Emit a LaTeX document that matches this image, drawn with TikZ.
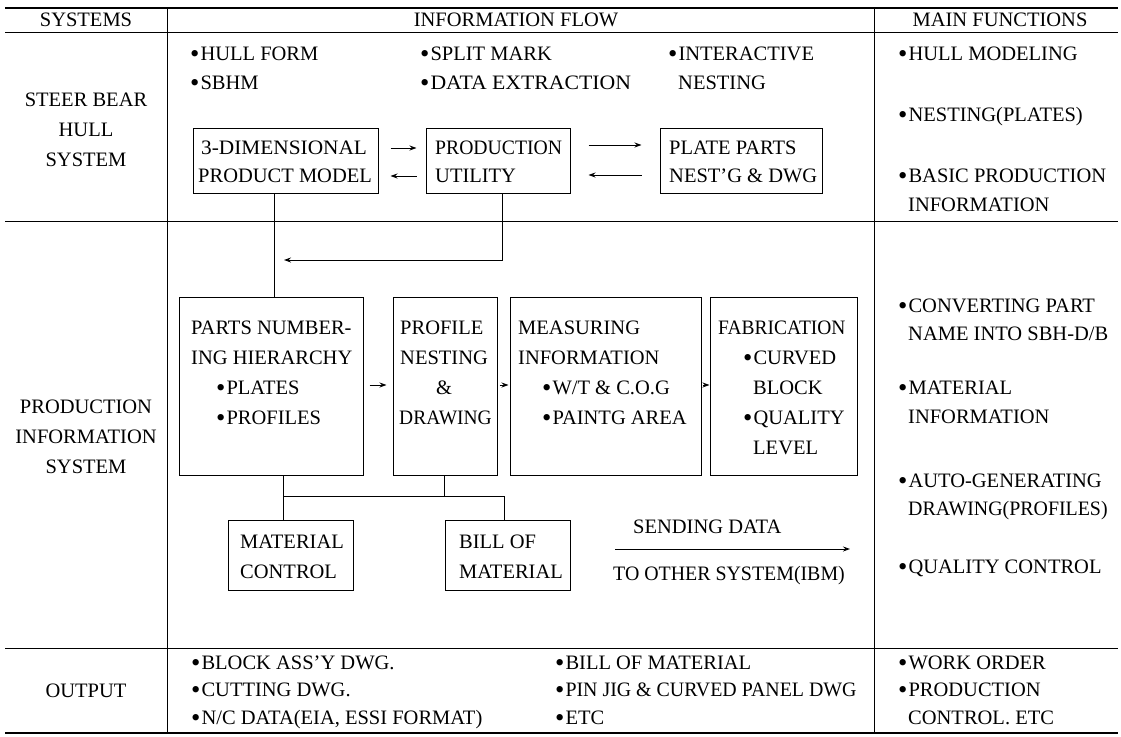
\documentclass[tikz,border=0pt]{standalone}
\usepackage{fontspec}
\setmainfont{Liberation Serif}
\usetikzlibrary{arrows.meta,calc}
\newcommand\bu{\raisebox{-1.3pt}{\scalebox{1.3}{•}}\kern1pt}
\newcommand\sq[2]{\scalebox{#1}[1]{#2}}
\begin{document}
\begin{tikzpicture}[x=1pt,y=-1pt,
  every node/.style={font=\fontsize{20.5}{24}\selectfont, inner sep=0pt},
  t/.style={anchor=west, text height=13.6pt, text depth=0pt},
  c/.style={anchor=center, text height=13.6pt, text depth=0pt},
  box/.style={draw, line width=1pt, anchor=center},
  ln/.style={line width=1pt},
  rule/.style={line width=1pt},
  arr/.style={line width=1pt, -{Stealth[length=7pt,width=5pt]}}]
\useasboundingbox (0,0) rectangle (1121,736);
% table rules
\draw[line width=1.6pt] (5,8) -- (1118,8);
\draw[rule] (5,32) -- (1118,32);
\draw[rule] (5,221) -- (1118,221);
\draw[rule] (5,648) -- (1118,648);
\draw[line width=1.3pt] (5,733) -- (1118,733);
\draw[line width=0.8pt] (167,8) -- (167,733);
\draw[line width=0.8pt] (874,8) -- (874,733);
% headers
\node[c] (hsys) at (86,20) {SYSTEMS};
\node[c] (hflow) at (516,20) {INFORMATION FLOW};
\node[c] (hmain) at (1000,20) {MAIN FUNCTIONS};
% left column
\node[c] (s1a) at (86,100) {STEER BEAR};
\node[c] (s1b) at (86,130) {HULL};
\node[c] (s1c) at (86,160) {SYSTEM};
\node[c] (s2a) at (86,407) {PRODUCTION};
\node[c] (s2b) at (86,437) {INFORMATION};
\node[c] (s2c) at (86,467) {SYSTEM};
\node[c] (s3) at (86,691) {OUTPUT};
% top flow bullets
\node[t] (f1a) at (190,54) {\bu HULL FORM};
\node[t] (f1b) at (190,83) {\bu SBHM};
\node[t] (f2a) at (420,54) {\bu SPLIT MARK};
\node[t] (f2b) at (420,83) {\bu \sq{1.06}{DATA EXTRACTION}};
\node[t] (f3a) at (668,54) {\bu INTERACTIVE};
\node[t] (f3b) at (678,83) {NESTING};
% top boxes
\node[box, minimum width=185pt, minimum height=65pt] (b1) at (285.5,160.5) {};
\node[t] (b1a) at (201,148) {\sq{1.04}{3-DIMENSIONAL}};
\node[t] (b1b) at (198,176) {PRODUCT MODEL};
\node[box, minimum width=144pt, minimum height=65pt] (b2) at (498,160.5) {};
\node[t] (b2a) at (435,148) {\sq{0.96}{PRODUCTION}};
\node[t] (b2b) at (435,176) {UTILITY};
\node[box, minimum width=162pt, minimum height=65pt] (b3) at (741,160.5) {};
\node[t] (b3a) at (669,148) {PLATE PARTS};
\node[t] (b3b) at (669,176) {NEST'G \& DWG};
\draw[arr] ($(b1.east)+(12,-12.5)$) -- ($(b2.west)+(-9,-12.5)$);
\draw[arr] ($(b2.west)+(-9,15.5)$) -- ($(b1.east)+(12,15.5)$);
\draw[arr] ($(b2.east)+(18,-15.5)$) -- ($(b3.west)+(-18,-15.5)$);
\draw[arr] ($(b3.west)+(-18,14.5)$) -- ($(b2.east)+(18,14.5)$);
% main functions top
\node[t] (m1) at (898,54) {\bu HULL MODELING};
\node[t] (m2) at (898,115) {\bu NESTING(PLATES)};
\node[t] (m3) at (898,176) {\bu BASIC PRODUCTION};
\node[t] (m3b) at (908,205) {INFORMATION};
% production row boxes
\node[box, minimum width=184pt, minimum height=178pt] (parts) at (271,386) {};
\node[t] (pa1) at (191,328) {PARTS NUMBER-};
\node[t] (pa2) at (191,358) {ING HIERARCHY};
\node[t] (pa3) at (216,388) {\bu PLATES};
\node[t] (pa4) at (216,418) {\bu PROFILES};
\node[box, minimum width=104pt, minimum height=178pt] (prof) at (445,386) {};
\node[t] (pr1) at (400,328) {PROFILE};
\node[t] (pr2) at (400,358) {NESTING};
\node[c] (pr3) at (444,388) {\&};
\node[t] (pr4) at (399,418) {\sq{0.95}{DRAWING}};
\node[box, minimum width=191pt, minimum height=178pt] (meas) at (605.5,386) {};
\node[t] (me1) at (518,328) {MEASURING};
\node[t] (me2) at (518,358) {INFORMATION};
\node[t] (me3) at (542,388) {\bu W/T \& C.O.G};
\node[t] (me4) at (542,418) {\bu PAINTG AREA};
\node[box, minimum width=147pt, minimum height=178pt] (fab) at (783.5,386) {};
\node[t] (fa1) at (718,328) {\sq{0.95}{FABRICATION}};
\node[t] (fa2) at (743,358) {\bu CURVED};
\node[t] (fa3) at (753,388) {BLOCK};
\node[t] (fa4) at (743,418) {\bu QUALITY};
\node[t] (fa5) at (753,448) {LEVEL};
\draw[arr] ($(parts.east)+(6,-1)$) -- ($(prof.west)+(-6,-1)$);
\draw[arr] ($(prof.east)+(2,-1)$) -- ($(meas.west)+(-1,-1)$);
\draw[arr] ($(meas.east)+(1,-1)$) -- ($(fab.west)+(0,-1)$);
% connectors from top boxes
\coordinate (jn) at (284,260);
\draw[ln] ([xshift=-11.5pt]b1.south) -- ([xshift=-11.5pt]b1.south |- parts.north);
\draw[arr] ([xshift=4pt]b2.south) |- (jn);
% lower boxes
\node[box, minimum width=125pt, minimum height=70pt] (mc) at (290.5,555) {};
\node[t] (mc1) at (240,542) {MATERIAL};
\node[t] (mc2) at (240,572) {CONTROL};
\node[box, minimum width=125pt, minimum height=70pt] (bom) at (507.5,555) {};
\node[t] (bo1) at (459,542) {BILL OF};
\node[t] (bo2) at (459,572) {MATERIAL};
\coordinate (jl) at (283,496);
\coordinate (jr) at (504,496);
\draw[ln] ([xshift=12pt]parts.south) -- ([xshift=12pt]parts.south |- mc.north);
\draw[ln] ([xshift=-1pt]prof.south) -- ([xshift=-1pt]prof.south |- jl);
\draw[ln] (jl) -- (jr) -- (jr |- bom.north);
% sending data
\node[t] (sd1) at (633,527) {SENDING DATA};
\node[t] (sd2) at (613,574) {\sq{0.97}{TO OTHER SYSTEM(IBM)}};
\coordinate (sa) at (615,549);
\coordinate (sb) at (850,549);
\draw[arr] (sa) -- (sb);
% main functions middle
\node[t] (m4) at (898,306) {\bu CONVERTING PART};
\node[t] (m4b) at (908,334) {NAME INTO SBH-D/B};
\node[t] (m5) at (898,388) {\bu MATERIAL};
\node[t] (m5b) at (908,417) {INFORMATION};
\node[t] (m6) at (898,481) {\bu AUTO-GENERATING};
\node[t] (m6b) at (908,509) {\sq{0.97}{DRAWING(PROFILES)}};
\node[t] (m7) at (898,567) {\bu QUALITY CONTROL};
% output
\node[t] (o1) at (191,663) {\bu BLOCK ASS'Y DWG.};
\node[t] (o2) at (191,690) {\bu CUTTING DWG.};
\node[t] (o3) at (191,718) {\bu N/C DATA(EIA, ESSI FORMAT)};
\node[t] (o4) at (555,663) {\bu BILL OF MATERIAL};
\node[t] (o5) at (555,690) {\bu \sq{0.97}{PIN JIG \& CURVED PANEL DWG}};
\node[t] (o6) at (555,718) {\bu ETC};
\node[t] (m8) at (898,663) {\bu WORK ORDER};
\node[t] (m9) at (898,690) {\bu PRODUCTION};
\node[t] (m9b) at (908,718) {CONTROL. ETC};
\end{tikzpicture}
\end{document}
